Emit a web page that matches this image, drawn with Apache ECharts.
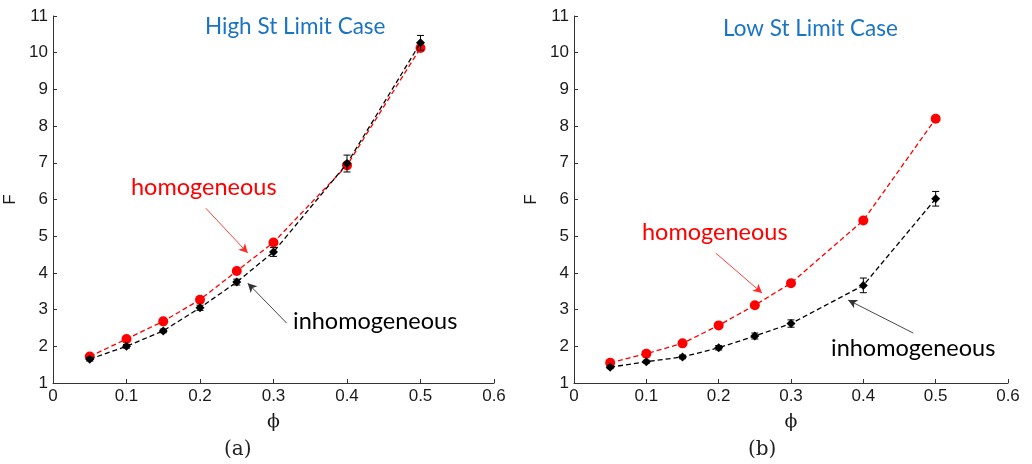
<!DOCTYPE html>
<html><head><meta charset="utf-8">
<script src="https://cdn.jsdelivr.net/npm/echarts@6/dist/echarts.min.js"></script>
<style>html,body{margin:0;padding:0;background:#fff}#c{width:1032px;height:464px}</style>
</head><body><div id="c"></div>
<script>
const phi = [0.05, 0.10, 0.15, 0.20, 0.25, 0.30, 0.40, 0.50];
// Panel (a) High St Limit Case
const homA = [1.72, 2.20, 2.68, 3.27, 4.05, 4.83, 6.93, 10.13];
const inhA = [1.65, 2.00, 2.42, 3.05, 3.75, 4.57, 6.98, 10.27];
const errA = [0.05, 0.05, 0.05, 0.07, 0.08, 0.12, 0.23, 0.20];
// Panel (b) Low St Limit Case
const homB = [1.55, 1.80, 2.08, 2.57, 3.12, 3.72, 5.43, 8.20];
const inhB = [1.43, 1.58, 1.71, 1.96, 2.28, 2.62, 3.66, 6.02];
const errB = [0.04, 0.04, 0.05, 0.06, 0.08, 0.10, 0.20, 0.20];
const xTicks = [0, 0.1, 0.2, 0.3, 0.4, 0.5, 0.6];
const yTicks = [1, 2, 3, 4, 5, 6, 7, 8, 9, 10, 11];
const titles = ['High St Limit Case', 'Low St Limit Case'];
const panelLabels = ['(a)', '(b)'];
// annotation arrows in data coords [start, end]
const arrowsA = {hom: [[0.208, 5.76], [0.265, 4.54]], inh: [[0.318, 2.63], [0.265, 3.72]]};
const arrowsB = {hom: [[0.196, 4.54], [0.260, 3.45]], inh: [[0.469, 2.36], [0.379, 3.26]]};

const chart = echarts.init(document.getElementById('c'), null, {renderer: 'canvas'});
const tickFont = {fontFamily: 'Liberation Sans', fontSize: 17, color: '#1a1a1a'};
const axColor = '#333';

function xAxis(gi) {
  return {
    type: 'value', gridIndex: gi, min: 0, max: 0.6, interval: 0.1,
    axisLine: {show: true, onZero: false, lineStyle: {color: axColor, width: 1}},
    axisTick: {show: true, inside: true, length: 4, lineStyle: {color: axColor}},
    splitLine: {show: false},
    axisLabel: Object.assign({margin: 5, formatter: v => {
      const t = xTicks.find(k => Math.abs(k - v) < 1e-9); return t === undefined ? '' : String(t);
    }}, tickFont),
    name: 'ϕ', nameLocation: 'middle', nameGap: 30,
    nameTextStyle: {fontFamily: 'DejaVu Serif', fontSize: 19, color: '#1a1a1a'}
  };
}
function yAxis(gi) {
  return {
    type: 'value', gridIndex: gi, min: 1, max: 11, interval: 1,
    axisLine: {show: true, onZero: false, lineStyle: {color: axColor, width: 1}},
    axisTick: {show: true, inside: true, length: 4, lineStyle: {color: axColor}},
    splitLine: {show: false},
    axisLabel: Object.assign({margin: 5, formatter: v => {
      const t = yTicks.find(k => Math.abs(k - v) < 1e-9); return t === undefined ? '' : String(t);
    }}, tickFont),
    name: 'F', nameLocation: 'middle', nameGap: 34, nameRotate: 90,
    nameTextStyle: {fontFamily: 'Liberation Sans', fontSize: 17, color: '#1a1a1a'}
  };
}

function errSeries(gi, vals, errs) {
  return {
    type: 'custom', xAxisIndex: gi, yAxisIndex: gi, z: 3, silent: true,
    data: phi.map((x, i) => [x, vals[i] - errs[i], vals[i] + errs[i]]),
    renderItem: function (params, api) {
      const x = api.value(0);
      const p1 = api.coord([x, api.value(1)]), p2 = api.coord([x, api.value(2)]);
      const w = 3.5, st = {stroke: '#000', lineWidth: 1};
      return {type: 'group', children: [
        {type: 'line', shape: {x1: p1[0], y1: p1[1], x2: p2[0], y2: p2[1]}, style: st},
        {type: 'line', shape: {x1: p1[0] - w, y1: p1[1], x2: p1[0] + w, y2: p1[1]}, style: st},
        {type: 'line', shape: {x1: p2[0] - w, y1: p2[1], x2: p2[0] + w, y2: p2[1]}, style: st}
      ]};
    }
  };
}
function lineSeries(gi, vals, color, symbol, size, arrow, z) {
  return {
    type: 'line', xAxisIndex: gi, yAxisIndex: gi, z: z, silent: true,
    data: phi.map((x, i) => [x, vals[i]]),
    symbol: symbol, symbolSize: size, showSymbol: true,
    itemStyle: {color: color}, lineStyle: {color: color, width: 1.3, type: [5, 3]},
    animation: false,
    markLine: {
      silent: true, symbol: ['none', 'arrow'], symbolSize: [7, 9],
      label: {show: false},
      lineStyle: {color: color === '#000' ? '#333' : '#ff2a2a', width: 0.9, type: 'solid'},
      data: [[{coord: arrow[0]}, {coord: arrow[1]}]]
    }
  };
}

const annFont = '23.5px Lato';
const titleFont = '22.5px Lato';
const option = {
  backgroundColor: '#fff',
  animation: false,
  grid: [
    {left: 53, right: 538, top: 16, bottom: 81},
    {left: 574, right: 24, top: 16, bottom: 81}
  ],
  xAxis: [xAxis(0), xAxis(1)],
  yAxis: [yAxis(0), yAxis(1)],
  series: [
    lineSeries(0, homA, '#ff0000', 'circle', 10, arrowsA.hom, 2),
    lineSeries(0, inhA, '#000', 'diamond', 9, arrowsA.inh, 4),
    errSeries(0, inhA, errA),
    lineSeries(1, homB, '#ff0000', 'circle', 10, arrowsB.hom, 2),
    lineSeries(1, inhB, '#000', 'diamond', 9, arrowsB.inh, 4),
    errSeries(1, inhB, errB)
  ],
  graphic: [
    {type: 'text', left: 205, top: 15, style: {text: titles[0], fill: '#1a74c4', font: titleFont}},
    {type: 'text', left: 723, top: 17, style: {text: titles[1], fill: '#1a74c4', font: titleFont}},
    {type: 'text', left: 131, top: 175, style: {text: 'homogeneous', fill: '#ff0000', font: annFont}},
    {type: 'text', left: 293, top: 309, style: {text: 'inhomogeneous', fill: '#000', font: annFont}},
    {type: 'text', left: 642, top: 220, style: {text: 'homogeneous', fill: '#ff0000', font: annFont}},
    {type: 'text', left: 831, top: 336, style: {text: 'inhomogeneous', fill: '#000', font: annFont}},
    {type: 'text', left: 224, top: 440, style: {text: panelLabels[0], fill: '#222', font: '20px "DejaVu Serif"'}},
    {type: 'text', left: 748, top: 440, style: {text: panelLabels[1], fill: '#222', font: '20px "DejaVu Serif"'}}
  ]
};
chart.setOption(option);
</script></body></html>
